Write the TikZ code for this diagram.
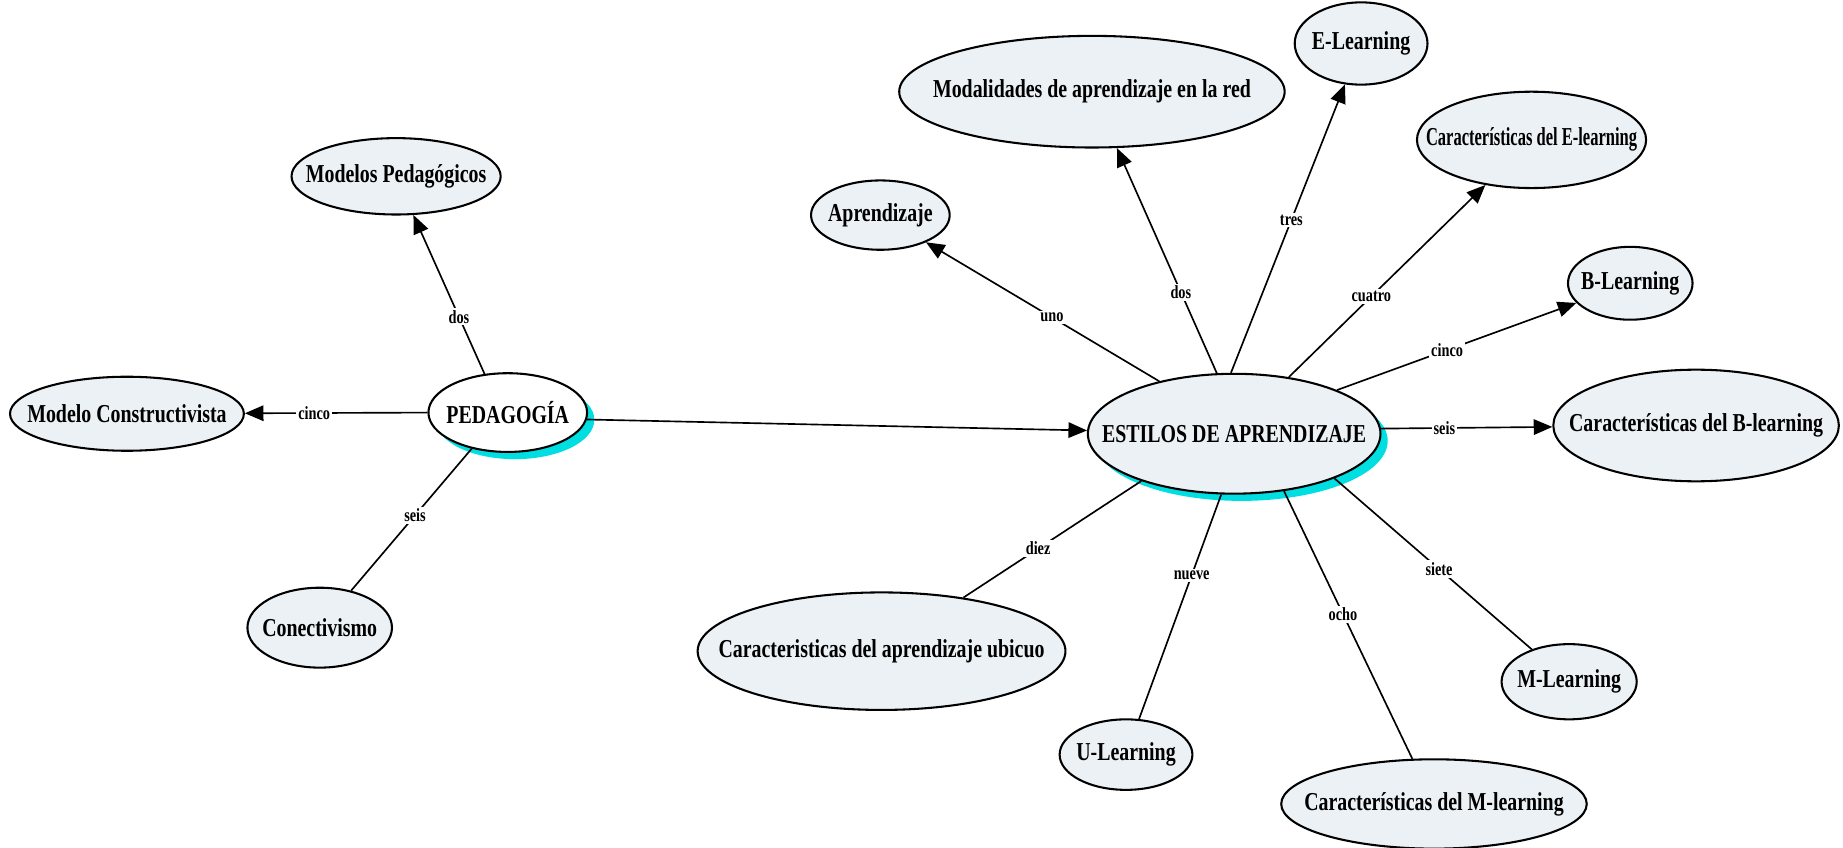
\documentclass[tikz,border=0pt]{standalone}
\usepackage{fontspec}
\setmainfont{Liberation Serif}[FakeStretch=0.77]
\usepackage{tikz}
\usetikzlibrary{positioning,arrows.meta,shapes.geometric,shadows}

\definecolor{conceptfill}{RGB}{235,241,244}
\definecolor{shadowcyan}{RGB}{0,222,226}

\begin{document}
\begin{tikzpicture}[x=0.02cm, y=-0.02cm,
  font=\bfseries\fontsize{12.5}{14}\selectfont,
  % the ellipse takes its size from minimum width/height only
  concept/.style={draw, line width=1pt, ellipse, fill=conceptfill, inner sep=0pt,
    execute at begin node={\hbox to 0pt\bgroup\hss},
    execute at end node={\hss\egroup}},
  hub/.style={concept, drop shadow={shadow xshift=3.5pt, shadow yshift=-3.5pt, fill=shadowcyan, opacity=1}},
  link/.style={line width=0.8pt},
  pointer/.style={link, -{Triangle[length=9pt, width=7.5pt]}},
  lbl/.style={fill=white, inner sep=1pt, font=\bfseries\fontsize{9}{10}\selectfont}]
  \useasboundingbox (0,0) rectangle (1568,721);

  % Left cluster
  \node[hub, fill=white, minimum width=2.70cm, minimum height=1.34cm] (pedagogia) at (432,351) {PEDAGOGÍA};
  \node[concept, minimum width=3.56cm, minimum height=1.30cm] (modelos) at (337,150) {Modelos Pedagógicos};
  \node[concept, minimum width=3.98cm, minimum height=1.26cm] (constructivista) at (108,352) {Modelo Constructivista};
  \node[concept, minimum width=2.46cm, minimum height=1.36cm] (conectivismo) at (272,534) {Conectivismo};

  \draw[pointer] (pedagogia.121) -- node[lbl, pos=0.36] {dos} (modelos);
  \draw[pointer] (pedagogia.west) -- node[lbl, pos=0.62] {cinco} (constructivista);
  \draw[link] (pedagogia.225) -- node[lbl, pos=0.47] {seis} (conectivismo);

  % Right cluster
  \node[hub, minimum width=4.98cm, minimum height=2.04cm] (estilos) at (1050,369) {ESTILOS DE APRENDIZAJE};
  \draw[pointer] (pedagogia.355) -- (estilos);

  \node[concept, minimum width=2.36cm, minimum height=1.18cm] (aprendizaje) at (749,183) {Aprendizaje};
  \node[concept, minimum width=6.56cm, minimum height=1.90cm] (modalidades) at (929,78) {Modalidades de aprendizaje en la red};
  \node[concept, minimum width=2.26cm, minimum height=1.40cm] (elearning) at (1158,37) {E-Learning};
  \node[concept, minimum width=3.90cm, minimum height=1.64cm] (caracE) at (1303,119) {\addfontfeature{FakeStretch=0.64}Características del E-learning};
  \node[concept, minimum width=2.12cm, minimum height=1.24cm] (blearning) at (1387,241) {B-Learning};
  \node[concept, minimum width=4.86cm, minimum height=1.90cm] (caracB) at (1443,362) {Características del B-learning};
  \node[concept, minimum width=2.30cm, minimum height=1.28cm] (mlearning) at (1335,580) {M-Learning};
  \node[concept, minimum width=5.20cm, minimum height=1.52cm] (caracM) at (1220,684) {Características del M-learning};
  \node[concept, minimum width=2.26cm, minimum height=1.20cm] (ulearning) at (958,642) {U-Learning};
  \node[concept, minimum width=6.26cm, minimum height=2.00cm] (ubicuo) at (750,554) {Caracteristicas del aprendizaje ubicuo};

  \draw[pointer] (estilos.145) -- node[lbl, pos=0.46] {uno} (aprendizaje);
  \draw[pointer] (estilos.106) -- node[lbl, pos=0.36] {dos} (modalidades);
  \draw[pointer] (estilos.93) -- node[lbl, pos=0.53] {tres} (elearning);
  \draw[pointer] (estilos.46) -- node[lbl, pos=0.42] {cuatro} (caracE);
  \draw[pointer] (estilos.23) -- node[lbl, pos=0.46] {cinco} (blearning);
  \draw[pointer] (estilos.2) -- node[lbl, pos=0.37] {seis} (caracB);
  \draw[link] (estilos.336) -- node[lbl, pos=0.53] {siete} (mlearning);
  \draw[link] (estilos.311) -- node[lbl, pos=0.46] {ocho} (caracM);
  \draw[link] (estilos.258) -- node[lbl, pos=0.36] {nueve} (ulearning);
  \draw[link] (estilos.207) -- node[lbl, pos=0.58] {diez} (ubicuo);

\end{tikzpicture}
\end{document}
